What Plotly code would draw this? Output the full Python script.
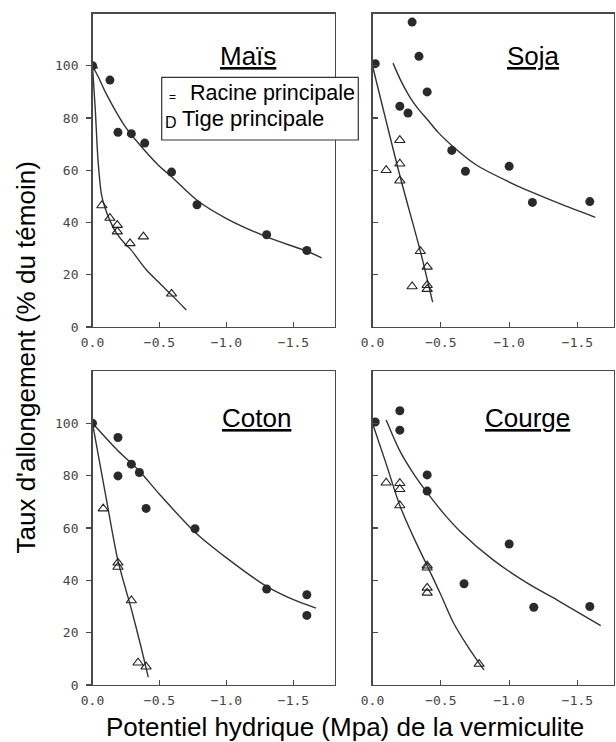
import plotly.graph_objects as go

W, H = 616, 742

# ---------------- data ----------------
x_ticks = [0, -0.5, -1.0, -1.5]
x_ticklabels = ["0.0", "\u22120.5", "\u22121.0", "\u22121.5"]
y_ticks = [0, 20, 40, 60, 80, 100]
y_ticklabels = ["0", "20", "40", "60", "80", "100"]

panel_titles = ["Maïs", "Soja", "Coton", "Courge"]
legend_labels = ["Racine principale", "Tige principale"]
legend_glyphs = ["=", "D"]

# Maïs
mais_racine_x = [0, -0.13, -0.19, -0.29, -0.39, -0.59, -0.78, -1.3, -1.6]
mais_racine_y = [100, 94.5, 74.5, 74, 70.4, 59.3, 46.8, 35.3, 29.3]
mais_tige_x = [0, -0.07, -0.13, -0.185, -0.185, -0.28, -0.38, -0.59]
mais_tige_y = [100, 46.5, 41.7, 39, 36.5, 32, 34.6, 12.7]
mais_racine_fit_x = [0, -0.05, -0.10, -0.24, -0.34, -0.49, -0.59, -0.78, -1.0, -1.3, -1.6, -1.71]
mais_racine_fit_y = [100, 95, 89.5, 77, 70.5, 62, 57.5, 48.5, 41.5, 34.5, 29, 26.5]
mais_tige_fit_x = [0, -0.021, -0.041, -0.066, -0.091, -0.128, -0.178, -0.25, -0.28, -0.40, -0.50, -0.59, -0.70]
mais_tige_fit_y = [100, 83, 64, 51, 46, 41, 36, 31.4, 30, 22, 16.8, 12.3, 6.5]

# Soja
soja_racine_x = [-0.02, -0.29, -0.34, -0.40, -0.20, -0.26, -0.58, -0.68, -1.0, -1.17, -1.59]
soja_racine_y = [100.8, 116.7, 103.6, 90, 84.5, 81.9, 67.6, 59.6, 61.5, 47.7, 48]
soja_tige_x = [-0.10, -0.20, -0.20, -0.20, -0.35, -0.40, -0.29, -0.40, -0.40]
soja_tige_y = [60, 71.5, 62.5, 56, 29, 23, 15.5, 16, 14.5]
soja_racine_fit_x = [-0.15, -0.21, -0.27, -0.33, -0.40, -0.48, -0.58, -0.76, -1.0, -1.17, -1.37, -1.63]
soja_racine_fit_y = [101, 94, 88.3, 83.8, 79.5, 74.5, 69.5, 62, 55.5, 51.5, 47.2, 42]
soja_tige_fit_x = [0, -0.2, -0.35, -0.44]
soja_tige_fit_y = [100, 58, 29, 9.5]

# Coton
coton_racine_x = [0, -0.19, -0.19, -0.29, -0.35, -0.40, -0.765, -1.3, -1.6, -1.6]
coton_racine_y = [100, 94.6, 79.9, 84.4, 81.2, 67.5, 59.7, 36.7, 34.5, 26.6]
coton_tige_x = [-0.08, -0.19, -0.19, -0.29, -0.34, -0.40]
coton_tige_y = [67.4, 46.7, 45.1, 32.3, 8.5, 7]
coton_racine_fit_x = [0, -0.19, -0.35, -0.50, -0.765, -1.0, -1.3, -1.5, -1.668]
coton_racine_fit_y = [100, 89.5, 81.8, 72.9, 58.4, 48.6, 37.7, 32.6, 29.4]
coton_tige_fit_x = [0, -0.1, -0.19, -0.29, -0.36, -0.416]
coton_tige_fit_y = [100, 72, 47.5, 29, 15, 3]

# Courge
courge_racine_x = [-0.02, -0.20, -0.20, -0.40, -0.40, -1.0, -0.67, -1.18, -1.59]
courge_racine_y = [100.5, 104.8, 97.4, 80.3, 74.1, 53.9, 38.7, 29.7, 30]
courge_tige_x = [-0.10, -0.20, -0.20, -0.20, -0.40, -0.40, -0.40, -0.40, -0.78]
courge_tige_y = [77.3, 77.1, 74.8, 68.6, 45.6, 44.8, 37.1, 35.2, 8]
courge_racine_fit_x = [-0.10, -0.20, -0.30, -0.40, -0.52, -0.64, -0.88, -1.13, -1.37, -1.67]
courge_racine_fit_y = [101.3, 89.5, 80.8, 73.5, 65.6, 58.8, 47.9, 39, 31.9, 22.7]
courge_tige_fit_x = [0, -0.1, -0.2, -0.3, -0.4, -0.5, -0.59, -0.7, -0.815]
courge_tige_fit_y = [100, 84.5, 68.6, 56.5, 45.6, 34.5, 24, 14.5, 5.75]

panels = [
    (mais_racine_x, mais_racine_y, mais_tige_x, mais_tige_y,
     mais_racine_fit_x, mais_racine_fit_y, mais_tige_fit_x, mais_tige_fit_y),
    (soja_racine_x, soja_racine_y, soja_tige_x, soja_tige_y,
     soja_racine_fit_x, soja_racine_fit_y, soja_tige_fit_x, soja_tige_fit_y),
    (coton_racine_x, coton_racine_y, coton_tige_x, coton_tige_y,
     coton_racine_fit_x, coton_racine_fit_y, coton_tige_fit_x, coton_tige_fit_y),
    (courge_racine_x, courge_racine_y, courge_tige_x, courge_tige_y,
     courge_racine_fit_x, courge_racine_fit_y, courge_tige_fit_x, courge_tige_fit_y),
]

# ---------------- layout helpers ----------------
def px(x):
    return x / W

def py(y):
    return 1 - y / H

x_domains = [[px(92.5), px(335)], [px(372.5), px(614)]]
y_domains = [[py(327), py(13.5)], [py(685), py(371)]]
x_ranges = [[0, -1.81], [0, -1.767]]

INK = "#333333"
AXIS = "#4a4a4a"
tick_font = dict(family="DejaVu Sans Mono", size=13, color="#444444")
TEXT_FONT = "Liberation Sans, Arial, sans-serif"

fig = go.Figure()

for i, (rx, ry, tx, ty, rfx, rfy, tfx, tfy) in enumerate(panels):
    sfx = "" if i == 0 else str(i + 1)
    xa, ya = "x" + sfx, "y" + sfx
    fig.add_trace(go.Scatter(x=rfx, y=rfy, mode="lines", xaxis=xa, yaxis=ya,
                             line=dict(color=INK, width=1.4, shape="spline", smoothing=0.8),
                             showlegend=False, hoverinfo="skip"))
    fig.add_trace(go.Scatter(x=tfx, y=tfy, mode="lines", xaxis=xa, yaxis=ya,
                             line=dict(color=INK, width=1.4, shape="spline", smoothing=0.8),
                             showlegend=False, hoverinfo="skip"))
    fig.add_trace(go.Scatter(x=tx, y=ty, mode="markers", xaxis=xa, yaxis=ya,
                             marker=dict(symbol="triangle-up-open", size=9,
                                         color="#222222", line=dict(width=1.1, color="#222222")),
                             name=legend_labels[1], showlegend=False))
    fig.add_trace(go.Scatter(x=rx, y=ry, mode="markers", xaxis=xa, yaxis=ya,
                             marker=dict(symbol="circle", size=9, color="#2a2a2a",
                                         line=dict(width=0)),
                             name=legend_labels[0], showlegend=False))

    col, row = i % 2, i // 2
    xkey = "xaxis" + sfx
    ykey = "yaxis" + sfx
    fig.layout[xkey] = dict(
        domain=x_domains[col], range=x_ranges[col], anchor=ya,
        tickvals=x_ticks, ticktext=x_ticklabels, ticks="inside", ticklen=5,
        tickcolor=AXIS, tickwidth=1.2, tickfont=tick_font, ticklabelstandoff=3,
        showline=True, linecolor=AXIS, linewidth=1.4, mirror=True,
        showgrid=False, zeroline=False, fixedrange=True, automargin=False,
    )
    fig.layout[ykey] = dict(
        domain=y_domains[row], range=[0, 120], anchor=xa,
        tickvals=y_ticks, ticktext=y_ticklabels,
        ticks="outside" if col == 0 else "inside", ticklen=5,
        showticklabels=(col == 0),
        tickcolor=AXIS, tickwidth=1.2, tickfont=tick_font, ticklabelstandoff=5,
        showline=True, linecolor=AXIS, linewidth=1.4, mirror=True,
        showgrid=False, zeroline=False, fixedrange=True, automargin=False,
    )

annotations = []
title_pos = [(247.7, 55.8), (533.8, 55.8), (256, 417.5), (527.5, 417.5)]
for t, (x, y) in zip(panel_titles, title_pos):
    annotations.append(dict(text="<u>" + t + "</u>", x=px(x), y=py(y), xref="paper", yref="paper",
                            xanchor="center", yanchor="middle", showarrow=False,
                            font=dict(family=TEXT_FONT, size=26, color="black")))

# legend box contents
annotations.append(dict(text=legend_labels[0], x=px(187.7), y=py(93.3), xref="paper", yref="paper",
                        xanchor="left", yanchor="middle", showarrow=False,
                        font=dict(family=TEXT_FONT, size=21.5, color="black")))
annotations.append(dict(text=legend_labels[1], x=px(180), y=py(118.5), xref="paper", yref="paper",
                        xanchor="left", yanchor="middle", showarrow=False,
                        font=dict(family=TEXT_FONT, size=22, color="black")))
annotations.append(dict(text=legend_glyphs[0], x=px(172.8), y=py(97), xref="paper", yref="paper",
                        xanchor="center", yanchor="middle", showarrow=False,
                        font=dict(family=TEXT_FONT, size=12, color="black")))
annotations.append(dict(text=legend_glyphs[1], x=px(171), y=py(123), xref="paper", yref="paper",
                        xanchor="center", yanchor="middle", showarrow=False,
                        font=dict(family=TEXT_FONT, size=16, color="black")))

# axis titles
annotations.append(dict(text="Potentiel hydrique (Mpa) de la vermiculite", x=px(345), y=py(727),
                        xref="paper", yref="paper", xanchor="center", yanchor="middle",
                        showarrow=False,
                        font=dict(family=TEXT_FONT, size=26, color="black")))
annotations.append(dict(text="Taux d'allongement (% du témoin)", x=px(25), y=py(357.5),
                        xref="paper", yref="paper", xanchor="center", yanchor="middle",
                        textangle=-90, showarrow=False,
                        font=dict(family=TEXT_FONT, size=26, color="black")))

shapes = [dict(type="rect", xref="paper", yref="paper",
               x0=px(161.7), x1=px(358.3), y0=py(140), y1=py(77.3),
               line=dict(color="#333333", width=1.2), fillcolor="white", layer="above")]

fig.update_layout(
    template="none",
    width=W, height=H, autosize=False,
    margin=dict(l=0, r=0, t=0, b=0, pad=0, autoexpand=False),
    paper_bgcolor="white", plot_bgcolor="white",
    annotations=annotations, shapes=shapes, showlegend=False,
)

fig.write_html("out.html",
               config={"displayModeBar": False, "staticPlot": True},
               post_script="document.body.style.margin='0';document.body.style.padding='0';")
